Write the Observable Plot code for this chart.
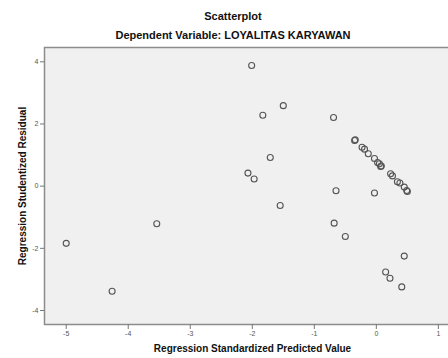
<!DOCTYPE html>
<html>
<head>
<meta charset="utf-8">
<script src="https://cdn.jsdelivr.net/npm/d3@7"></script>
<script src="https://cdn.jsdelivr.net/npm/@observablehq/plot@0.6"></script>
<style>
  html, body { margin: 0; padding: 0; background: #fff; overflow: hidden; }
  #wrap { position: relative; width: 448px; height: 358px; overflow: hidden; font-family: "Liberation Sans", Arial, sans-serif; }
  #chart { position: absolute; left: 0; top: 0; width: 460px; }
  #chart svg { max-width: none !important; width: 460px; height: 358px; }
  .t { position: absolute; left: 0; width: 466px; text-align: center; color: #111; white-space: nowrap; font-weight: bold; }
  #title { top: 10px; font-size: 11px; line-height: 12px; }
  #subtitle { top: 29px; font-size: 11px; line-height: 13px; }
</style>
</head>
<body>
<div id="wrap">
  <div id="chart"></div>
  <div class="t" id="title">Scatterplot</div>
  <div class="t" id="subtitle">Dependent Variable: LOYALITAS KARYAWAN</div>
</div>
<script>
// Regression Standardized Predicted Value
const predicted = [
  -5.00, -4.26, -3.54, -2.01, -1.50, -1.83, -0.69, -1.71, -2.07, -1.97,
  -0.65, -0.03, -1.55, -0.68, -0.50, 0.45, 0.15, 0.22, 0.41,
  -0.35, -0.34, -0.23, -0.19, -0.13, -0.03, 0.02, 0.05, 0.07, 0.08,
  0.23, 0.26, 0.34, 0.38, 0.45, 0.49, 0.50
];
// Regression Studentized Residual
const residual = [
  -1.84, -3.38, -1.21, 3.88, 2.59, 2.28, 2.21, 0.92, 0.42, 0.23,
  -0.15, -0.22, -0.62, -1.19, -1.62, -2.25, -2.76, -2.96, -3.24,
  1.47, 1.49, 1.25, 1.19, 1.04, 0.89, 0.76, 0.72, 0.63, 0.65,
  0.40, 0.33, 0.14, 0.10, -0.03, -0.14, -0.17
];
const xTicks = [-5, -4, -3, -2, -1, 0, 1];
const yTicks = [-4, -2, 0, 2, 4];

const data = predicted.map((x, i) => ({x, y: residual[i]}));
const fmt = d => String(d);

const chart = Plot.plot({
  width: 460,
  height: 358,
  marginLeft: 44,
  marginRight: 0,
  marginTop: 47,
  marginBottom: 34,
  style: {fontFamily: "'Liberation Sans', Arial, sans-serif", background: "transparent", maxWidth: "none"},
  x: {domain: [-5.35, 1.357]},
  y: {domain: [-4.45, 4.46]},
  marks: [
    Plot.frame({fill: "#f0f0f0", stroke: "none"}),
    Plot.dot(data, {x: "x", y: "y", r: 3, stroke: "#555", strokeWidth: 1.1, fill: "none"}),
    Plot.frame({stroke: "#8c8c8c", strokeWidth: 1.5, fill: "none"}),
    Plot.axisX({ticks: xTicks, tickFormat: fmt, tickSize: 5, tickPadding: 2, fontSize: 7, color: "#555", stroke: "#777",
      label: "Regression Standardized Predicted Value", labelAnchor: "center", labelOffset: 27, labelArrow: "none"}),
    Plot.axisY({ticks: yTicks, tickFormat: fmt, tickSize: 4, tickPadding: 2, fontSize: 7, color: "#555", stroke: "#777",
      label: "Regression Studentized Residual", labelAnchor: "center", labelOffset: 26, labelArrow: "none"})
  ]
});
chart.querySelectorAll("g[aria-label='x-axis label'] text, g[aria-label='y-axis label'] text").forEach(t => {
  t.setAttribute("font-weight", "bold");
  t.setAttribute("font-size", "10");
  t.setAttribute("fill", "#111");
});
document.getElementById("chart").append(chart);
</script>
</body>
</html>
